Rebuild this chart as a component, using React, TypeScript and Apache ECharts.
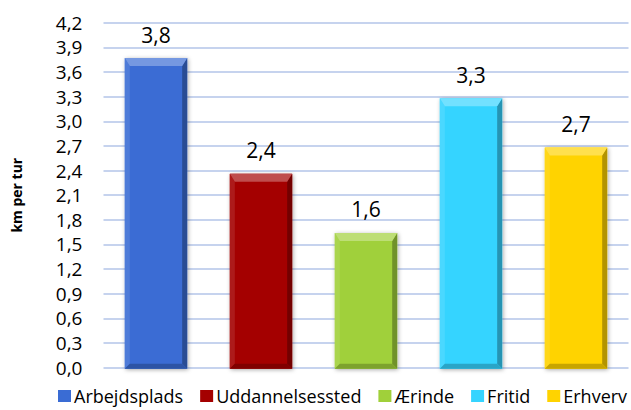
import React, { useEffect, useRef } from "react";
import * as echarts from "echarts";

const categories = ["Arbejdsplads", "Uddannelsessted", "Ærinde", "Fritid", "Erhverv"];
const values = [3.77, 2.36, 1.64, 3.28, 2.68];
const yMin = 0;
const yMax = 4.2;
const yInterval = 0.3;
const yAxisTitle = "km per tur";

const palette = ["#3A6CD4", "#A40000", "#A0D03A", "#36D4FF", "#FFD300"];

function mix(hex: string, target: string, t: number): string {
  const p = (h: string) => [1, 3, 5].map((i) => parseInt(h.slice(i, i + 2), 16));
  const a = p(hex);
  const b = p(target);
  const c = a.map((v, i) => Math.round(v + (b[i] - v) * t));
  return "#" + c.map((v) => v.toString(16).padStart(2, "0")).join("");
}

const fmt = (v: number) => v.toFixed(1).replace(".", ",");

export default function App() {
  const ref = useRef<HTMLDivElement>(null);
  useEffect(() => {
    if (!ref.current) return;
    document.body.style.margin = "0";
    const chart = echarts.init(ref.current, undefined, { renderer: "svg" });
    const renderItem = (params: any, api: any) => {
      const xi = api.value(0);
      const v = api.value(1);
      const top = api.coord([xi, v]);
      const base = api.coord([xi, 0]);
      const band = api.size([1, 0])[0];
      const w = band * 0.594;
      const l = top[0] - w / 2;
      const r = top[0] + w / 2;
      const t = top[1];
      const b = base[1] + 1;
      const bv = 8;
      const sv = 5;
      const bb = 5;
      const color = palette[params.seriesIndex];
      return {
        type: "group",
        children: [
          {
            type: "rect",
            shape: { x: l, y: t, width: w, height: b - t },
            style: {
              fill: color,
              shadowBlur: 4,
              shadowColor: "rgba(0,0,0,0.35)",
              shadowOffsetX: 1,
              shadowOffsetY: 1,
            },
          },
          {
            type: "polygon",
            shape: { points: [[l, t], [l + sv, t + bv], [l + sv, b - bb], [l, b]] },
            style: { fill: mix(color, "#ffffff", 0.1) },
          },
          {
            type: "polygon",
            shape: { points: [[r, t], [r, b], [r - sv, b - bb], [r - sv, t + bv]] },
            style: { fill: mix(color, "#000000", 0.3) },
          },
          {
            type: "polygon",
            shape: { points: [[l, b], [r, b], [r - sv, b - bb], [l + sv, b - bb]] },
            style: { fill: mix(color, "#000000", 0.22) },
          },
          {
            type: "polygon",
            shape: { points: [[l, t], [r, t], [r - sv, t + bv], [l + sv, t + bv]] },
            style: { fill: mix(color, "#ffffff", 0.3) },
          },
          {
            type: "text",
            x: top[0],
            y: t - 13,
            style: {
              text: fmt(v),
              textAlign: "center",
              textVerticalAlign: "bottom",
              fontFamily: "Open Sans",
              fontSize: 21,
              fill: "#000000",
            },
          },
        ],
      };
    };
    chart.setOption({
      animation: false,
      backgroundColor: "#ffffff",
      grid: { left: 103.5, right: 2.5, top: 22.7, bottom: 42.3, containLabel: false },
      legend: {
        left: 58,
        top: 387,
        icon: "rect",
        itemWidth: 13,
        itemHeight: 12,
        itemGap: 17,
        padding: 0,
        textStyle: { fontFamily: "Open Sans", fontSize: 18, color: "#000000", padding: [0, 0, 0, -2] },
        data: categories,
      },
      xAxis: {
        type: "category",
        data: categories,
        axisLine: { show: false },
        axisTick: { show: false },
        axisLabel: { show: false },
      },
      yAxis: {
        type: "value",
        min: yMin,
        max: yMax,
        interval: yInterval,
        name: yAxisTitle,
        nameLocation: "middle",
        nameGap: 80,
        nameRotate: 90,
        nameTextStyle: { fontFamily: "Open Sans", fontWeight: "bold", fontSize: 14, color: "#000000" },
        axisLine: { show: false },
        axisTick: { show: false },
        axisLabel: {
          formatter: (v: number) => fmt(v),
          fontFamily: "Open Sans",
          fontSize: 19,
          color: "#000000",
          margin: 21,
        },
        splitLine: { lineStyle: { color: "#B3C5E8", width: 1.5 } },
      },
      series: categories.map((name, i) => ({
        type: "custom",
        name,
        data: [[i, values[i]]],
        itemStyle: { color: palette[i] },
        encode: { x: 0, y: 1 },
        renderItem,
      })),
    });
    return () => chart.dispose();
  }, []);
  return <div ref={ref} style={{ width: 631, height: 410 }} />;
}
